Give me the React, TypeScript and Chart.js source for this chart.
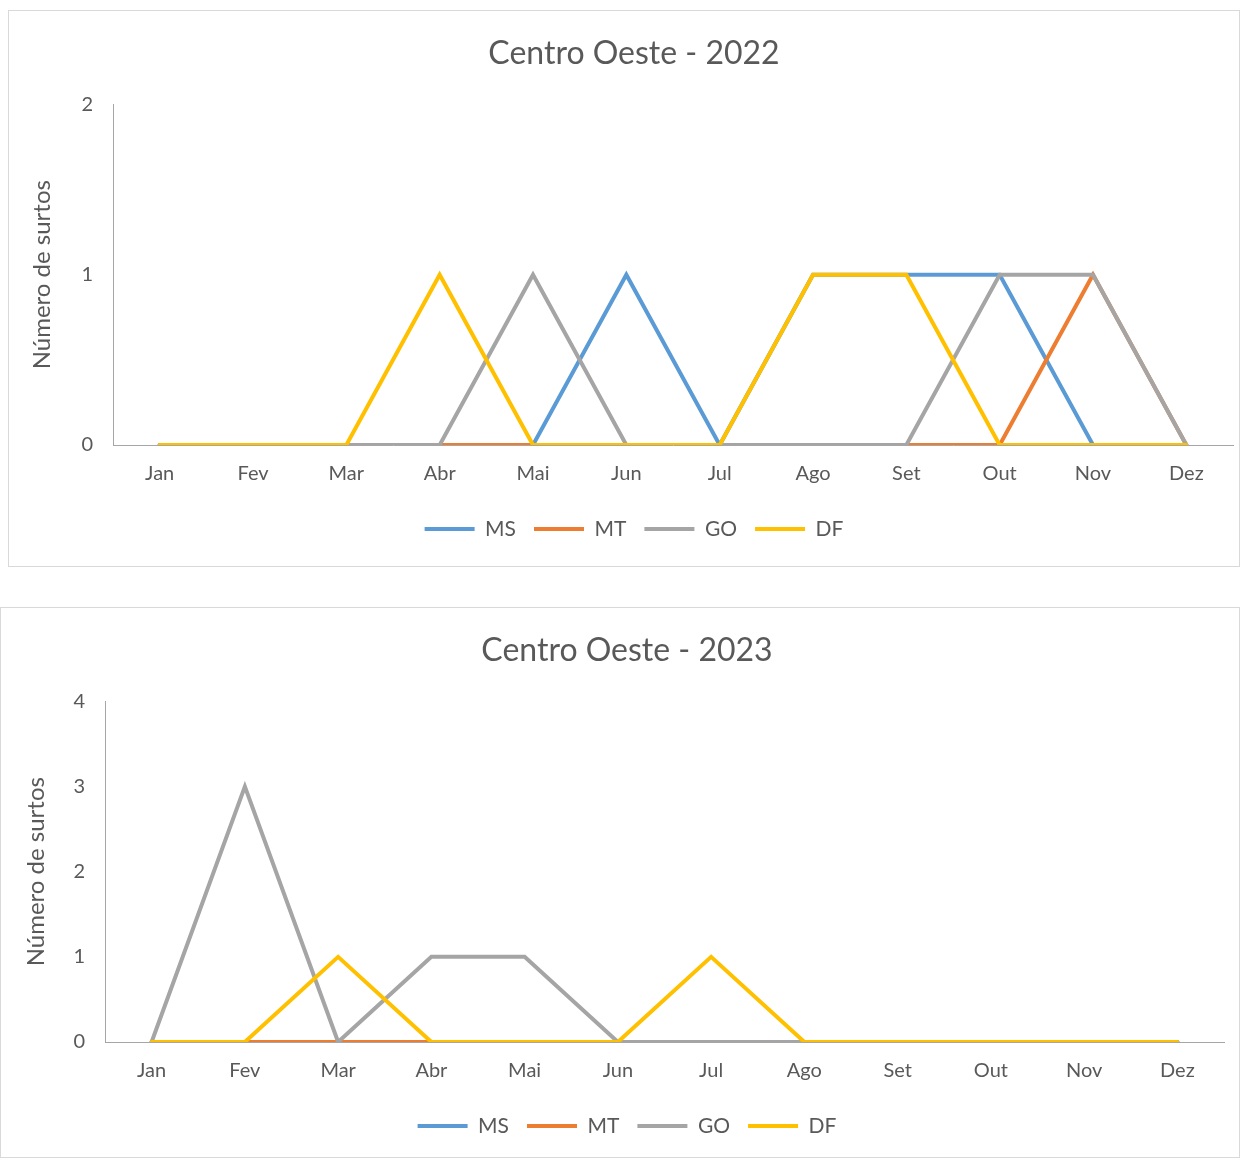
import React, { useEffect, useRef } from "react";
import { Chart, registerables } from "chart.js";

Chart.register(...registerables);

const months = ["Jan", "Fev", "Mar", "Abr", "Mai", "Jun", "Jul", "Ago", "Set", "Out", "Nov", "Dez"];
const seriesNames = ["MS", "MT", "GO", "DF"];
const seriesColors = ["#5b9bd5", "#ed7d31", "#a5a5a5", "#ffc000"];

const ms2022 = [0, 0, 0, 0, 0, 1, 0, 1, 1, 1, 0, 0];
const mt2022 = [0, 0, 0, 0, 0, 0, 0, 0, 0, 0, 1, 0];
const go2022 = [0, 0, 0, 0, 1, 0, 0, 0, 0, 1, 1, 0];
const df2022 = [0, 0, 0, 1, 0, 0, 0, 1, 1, 0, 0, 0];

const ms2023 = [0, 0, 0, 0, 0, 0, 0, 0, 0, 0, 0, 0];
const mt2023 = [0, 0, 0, 0, 0, 0, 0, 0, 0, 0, 0, 0];
const go2023 = [0, 3, 0, 1, 1, 0, 0, 0, 0, 0, 0, 0];
const df2023 = [0, 0, 1, 0, 0, 0, 1, 0, 0, 0, 0, 0];

const yTicks2022 = [0, 1, 2];
const yTicks2023 = [0, 1, 2, 3, 4];

const FONT = "Lato, 'Open Sans', sans-serif";
const TEXT = "#595959";

type Props = {
  title: string;
  values: number[][];
  yTicks: number[];
  width: number;
  height: number;
  padLeft: number;
  padRight: number;
  padBottom: number;
  yTitlePad: number;
};

function LineChart({ title, values, yTicks, width, height, padLeft, padRight, padBottom, yTitlePad }: Props) {
  const ref = useRef<HTMLCanvasElement | null>(null);
  useEffect(() => {
    if (!ref.current) return;
    const datasets = seriesNames.map((name, i) => ({
      label: name,
      data: values[i],
      borderColor: seriesColors[i],
      backgroundColor: seriesColors[i],
      borderWidth: 4,
      pointRadius: 0,
      pointHoverRadius: 0,
      tension: 0,
      borderCapStyle: "round" as const,
      borderJoinStyle: "miter" as const,
      fill: false,
      order: seriesNames.length - i,
    }));
    const chart = new Chart(ref.current, {
      type: "line",
      data: { labels: months, datasets },
      options: {
        responsive: false,
        animation: false,
        layout: { padding: { left: padLeft, right: padRight, top: 0, bottom: padBottom } },
        plugins: {
          title: {
            display: true,
            text: title,
            color: TEXT,
            font: { family: FONT, size: 32, weight: "normal" },
            padding: { top: 23, bottom: 32 },
          },
          legend: {
            display: true,
            position: "bottom",
            labels: {
              usePointStyle: true,
              pointStyle: "line",
              pointStyleWidth: 50,
              color: TEXT,
              font: { family: FONT, size: 21 },
              padding: 18,
              sort: (a: any, b: any) => a.datasetIndex - b.datasetIndex,
            },
          },
          tooltip: { enabled: false },
        },
        scales: {
          x: {
            offset: true,
            grid: { display: false, drawTicks: false },
            border: { display: true, color: "#a6a6a6", width: 1 },
            ticks: { color: TEXT, font: { family: FONT, size: 20 }, padding: 17, maxRotation: 0, autoSkip: false },
            afterFit: (s: any) => {
              s.height = 55.5;
            },
          },
          y: {
            min: yTicks[0],
            max: yTicks[yTicks.length - 1],
            afterBuildTicks: (s: any) => {
              s.ticks = yTicks.map((v) => ({ value: v }));
            },
            grid: { display: false, drawTicks: false },
            border: { display: true, color: "#a6a6a6", width: 1 },
            ticks: { color: TEXT, font: { family: FONT, size: 20 }, padding: 20 },
            title: {
              display: true,
              text: "Número de surtos",
              color: TEXT,
              font: { family: FONT, size: 24, weight: "normal" },
              padding: { top: yTitlePad, bottom: 0 },
            },
            afterFit: (s: any) => {
              s.width = 104 - padLeft;
            },
          },
        },
      },
    });
    return () => chart.destroy();
  }, []);
  return <canvas ref={ref} width={width} height={height} style={{ display: "block" }} />;
}

export default function App() {
  return (
    <div>
      <div
        style={{
          position: "absolute",
          left: 8,
          top: 10,
          width: 1232,
          height: 557,
          border: "1px solid #d9d9d9",
          boxSizing: "border-box",
          background: "#fff",
        }}
      >
        <LineChart
          title="Centro Oeste - 2022"
          values={[ms2022, mt2022, go2022, df2022]}
          yTicks={yTicks2022}
          width={1230}
          height={555}
          padLeft={26}
          padRight={6}
          padBottom={16.5}
          yTitlePad={-7}
        />
      </div>
      <div
        style={{
          position: "absolute",
          left: 0,
          top: 607,
          width: 1240,
          height: 551,
          border: "1px solid #d9d9d9",
          boxSizing: "border-box",
          background: "#fff",
        }}
      >
        <LineChart
          title="Centro Oeste - 2023"
          values={[ms2023, mt2023, go2023, df2023]}
          yTicks={yTicks2023}
          width={1238}
          height={549}
          padLeft={29}
          padRight={15}
          padBottom={10.5}
          yTitlePad={-8}
        />
      </div>
    </div>
  );
}
